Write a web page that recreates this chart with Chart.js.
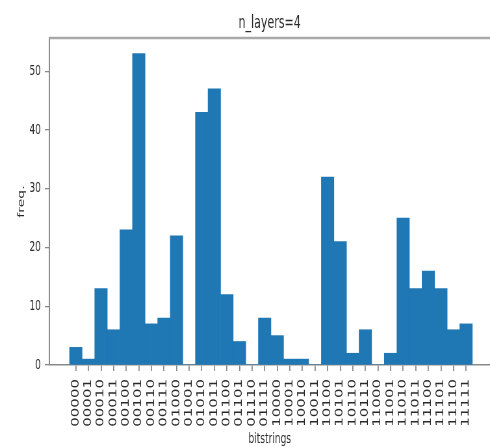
<!DOCTYPE html>
<html>
<head>
<meta charset="utf-8">
<script src="https://cdn.jsdelivr.net/npm/chart.js@4/dist/chart.umd.min.js"></script>
<style>
html,body{margin:0;padding:0;background:#fff;overflow:hidden;}
#c{display:block;}
</style>
</head>
<body>
<canvas id="c" width="754" height="448" style="width:490px;height:448px;"></canvas>
<script>
const categories = ["00000","00001","00010","00011","00100","00101","00110","00111",
  "01000","01001","01010","01011","01100","01101","01110","01111",
  "10000","10001","10010","10011","10100","10101","10110","10111",
  "11000","11001","11010","11011","11100","11101","11110","11111"];
const freq = [3,1,13,6,23,53,7,8, 22,0,43,47,12,4,0,8, 5,1,1,0,32,21,2,6, 0,2,25,13,16,13,6,7];
const yTicks = [0,10,20,30,40,50];
const titleText = "n_layers=4";
const xTitle = "bitstrings";
const yTitle = "freq.";

const FONT = "'DejaVu Sans',sans-serif";
const AXIS = "#8a8a8a";
const TXT = "#2a2a2a";

const topSpine = {
  id: 'topSpine',
  afterDraw(chart) {
    const a = chart.chartArea, ctx = chart.ctx;
    ctx.save();
    ctx.strokeStyle = "#a8a8a8";
    ctx.lineWidth = 2.5;
    ctx.beginPath();
    ctx.moveTo(a.left, a.top);
    ctx.lineTo(a.right, a.top);
    ctx.stroke();
    ctx.restore();
  }
};

new Chart(document.getElementById('c'), {
  type: 'bar',
  data: {
    datasets: [{
      data: freq.map((v, i) => ({x: i, y: v})),
      backgroundColor: '#1f77b4',
      borderWidth: 0,
      barPercentage: 1,
      categoryPercentage: 1
    }]
  },
  options: {
    responsive: false,
    animation: false,
    devicePixelRatio: 1,
    layout: {autoPadding: false, padding: 0},
    plugins: {
      legend: {display: false},
      tooltip: {enabled: false},
      title: {
        display: true,
        fullSize: false,
        text: titleText,
        color: TXT,
        font: {family: FONT, size: 17, weight: 'normal'},
        padding: {top: 13.3, bottom: 4.3}
      }
    },
    scales: {
      x: {
        type: 'linear',
        offset: false,
        min: -2.1,
        max: 32.9,
        afterBuildTicks(scale) {
          scale.ticks = categories.map((_, i) => ({value: i}));
        },
        afterFit(scale) {
          scale.height = 83;
          scale.paddingLeft = 0; scale.paddingRight = 0;
        },
        ticks: {
          autoSkip: false,
          minRotation: 90,
          maxRotation: 90,
          padding: 8,
          color: TXT,
          font: {family: FONT, size: 15},
          callback: (v) => categories[v]
        },
        grid: {drawOnChartArea: false, offset: false, drawTicks: true, tickLength: 6, color: AXIS, lineWidth: 1.8},
        border: {display: true, color: AXIS, width: 1.5},
        title: {
          display: true,
          text: xTitle,
          color: TXT,
          font: {family: FONT, size: 14},
          padding: {top: 0, bottom: 0}
        }
      },
      y: {
        min: 0,
        max: 55.65,
        afterBuildTicks(scale) {
          scale.ticks = yTicks.map(v => ({value: v}));
        },
        afterFit(scale) { scale.width = 76; },
        ticks: {
          padding: 6,
          color: TXT,
          font: {family: FONT, size: 14}
        },
        grid: {drawOnChartArea: false, drawTicks: true, tickLength: 7, color: AXIS, lineWidth: 1.3},
        border: {display: true, color: AXIS, width: 2},
        title: {
          display: true,
          text: yTitle,
          color: TXT,
          font: {family: FONT, size: 14},
          padding: {top: 25, bottom: 0}
        }
      }
    }
  },
  plugins: [topSpine]
});
</script>
</body>
</html>
